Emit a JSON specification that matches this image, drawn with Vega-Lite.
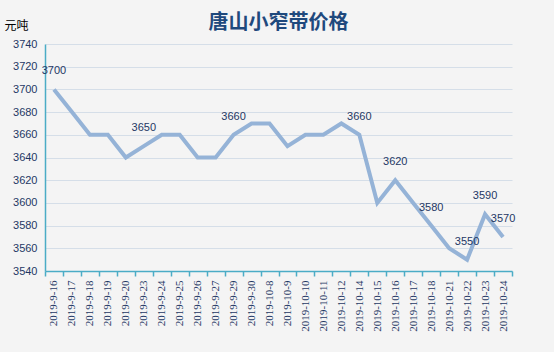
{
  "$schema": "https://vega.github.io/schema/vega-lite/v6.json",
  "width": 467,
  "height": 227,
  "autosize": "none",
  "padding": {"left": 45, "top": 44, "right": 42, "bottom": 81},
  "background": "#f4f4f4",
  "title": {
    "text": "唐山小窄带价格",
    "font": "Noto Sans CJK SC",
    "fontSize": 20,
    "fontWeight": "bold",
    "color": "#1F497D",
    "anchor": "middle",
    "offset": -14
  },
  "config": {
    "view": {"stroke": null},
    "axis": {"labelFont": "Liberation Sans"}
  },
  "data": {
    "values": [
      {"date": "2019-9-16", "price": 3700, "label": "3700"},
      {"date": "2019-9-17", "price": 3680, "label": ""},
      {"date": "2019-9-18", "price": 3660, "label": ""},
      {"date": "2019-9-19", "price": 3660, "label": ""},
      {"date": "2019-9-20", "price": 3640, "label": ""},
      {"date": "2019-9-23", "price": 3650, "label": "3650"},
      {"date": "2019-9-24", "price": 3660, "label": ""},
      {"date": "2019-9-25", "price": 3660, "label": ""},
      {"date": "2019-9-26", "price": 3640, "label": ""},
      {"date": "2019-9-27", "price": 3640, "label": ""},
      {"date": "2019-9-29", "price": 3660, "label": "3660"},
      {"date": "2019-9-30", "price": 3670, "label": ""},
      {"date": "2019-10-8", "price": 3670, "label": ""},
      {"date": "2019-10-9", "price": 3650, "label": ""},
      {"date": "2019-10-10", "price": 3660, "label": ""},
      {"date": "2019-10-11", "price": 3660, "label": ""},
      {"date": "2019-10-12", "price": 3670, "label": ""},
      {"date": "2019-10-14", "price": 3660, "label": "3660"},
      {"date": "2019-10-15", "price": 3600, "label": ""},
      {"date": "2019-10-16", "price": 3620, "label": "3620"},
      {"date": "2019-10-17", "price": 3600, "label": ""},
      {"date": "2019-10-18", "price": 3580, "label": "3580"},
      {"date": "2019-10-21", "price": 3560, "label": ""},
      {"date": "2019-10-22", "price": 3550, "label": "3550"},
      {"date": "2019-10-23", "price": 3590, "label": "3590"},
      {"date": "2019-10-24", "price": 3570, "label": "3570"}
    ]
  },
  "encoding": {
    "x": {
      "field": "date",
      "type": "nominal",
      "sort": null,
      "scale": {"type": "band", "paddingInner": 0, "paddingOuter": 0},
      "axis": {
        "title": null,
        "labelAngle": -90,
        "labelFont": "Liberation Serif",
        "labelFontSize": 11,
        "labelColor": "#1F3864",
        "labelPadding": 4,
        "domainColor": "#4BACC6",
        "domainWidth": 1.5,
        "tickColor": "#4BACC6",
        "tickWidth": 1.5,
        "tickSize": 5,
        "tickBand": "extent",
        "grid": false
      }
    },
    "y": {
      "field": "price",
      "type": "quantitative",
      "scale": {"domain": [3540, 3740], "nice": false, "zero": false},
      "axis": {
        "values": [3540, 3560, 3580, 3600, 3620, 3640, 3660, 3680, 3700, 3720, 3740],
        "format": "d",
        "title": "元吨",
        "titleFont": "Noto Sans CJK SC",
        "titleFontSize": 12,
        "titleFontWeight": "normal",
        "titleColor": "#000000",
        "titleAngle": 0,
        "titleAlign": "left",
        "titleBaseline": "middle",
        "titleX": -41,
        "titleY": -19,
        "labelFontSize": 11,
        "labelColor": "#1F3864",
        "labelPadding": 8,
        "ticks": false,
        "domainColor": "#4BACC6",
        "domainWidth": 1.5,
        "gridColor": "#D5DEE8",
        "gridWidth": 1
      }
    }
  },
  "layer": [
    {
      "mark": {"type": "line", "color": "#95B3D7", "strokeWidth": 4}
    },
    {
      "transform": [{"filter": "datum.label != ''"}],
      "mark": {"type": "text", "dy": -18, "font": "Liberation Sans", "fontSize": 11, "color": "#1F3864"},
      "encoding": {"text": {"field": "label"}}
    }
  ]
}
